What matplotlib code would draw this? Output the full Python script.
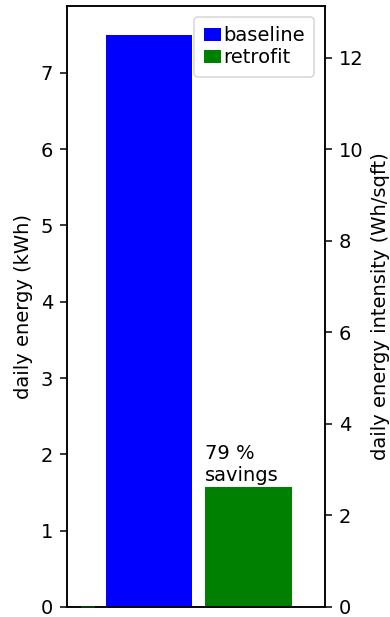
import matplotlib
matplotlib.use("Agg")
import matplotlib.pyplot as plt

# daily energy use (kWh)
labels = ["baseline", "retrofit"]
energy_kwh = [7.5, 1.57]
colors = ["blue", "green"]
floor_area_sqft = 600.0

# stub on the intensity axis
stub_x = [-0.615]
stub_height = [0.0]

savings_pct = round(100 * (1 - energy_kwh[1] / energy_kwh[0]))

fs = 14
lw = 1.1
fig = plt.figure(figsize=(3.9, 6.17), dpi=100)
ax = fig.add_axes([67 / 390, 1 - 607 / 617, (325 - 67) / 390, (607 - 6) / 617])

width = 0.87
xs = list(range(len(labels)))
bars = ax.bar(xs, energy_kwh, width=width, color=colors)
ax.set_xlim(-0.828, 1.77)
ax.set_xticks([])
ax.set_ylabel("daily energy (kWh)", fontsize=fs, labelpad=5.6)
ax.tick_params(labelsize=fs, length=5, width=lw, pad=5)

ymax = max(energy_kwh) * 1.05
ax.set_ylim(0, ymax)

ax2 = ax.twinx()
ax2.set_ylim(0, ymax * 1000 / floor_area_sqft)
ax2.set_ylabel("daily energy intensity (Wh/sqft)", fontsize=fs, labelpad=5.6)
ax2.tick_params(labelsize=fs, length=5, width=lw, pad=5)
ax2.hlines(stub_height, [x - 0.07 for x in stub_x], [x + 0.07 for x in stub_x],
           color="#0a3f0a", lw=1.4, zorder=5, clip_on=False)
for a in (ax, ax2):
    for s in a.spines.values():
        s.set_linewidth(lw)

ax.text(xs[1] - width / 2, energy_kwh[1] + 0.03, f"{savings_pct} %\nsavings",
        ha="left", va="bottom", fontsize=fs)

leg = ax.legend(handles=bars, labels=labels, loc="upper right", fontsize=fs,
                handlelength=0.9, handletextpad=0.1, borderpad=0.5,
                labelspacing=0.15, borderaxespad=0.55)
leg.get_frame().set_linewidth(lw)

fig.savefig("out.png", dpi=100)
